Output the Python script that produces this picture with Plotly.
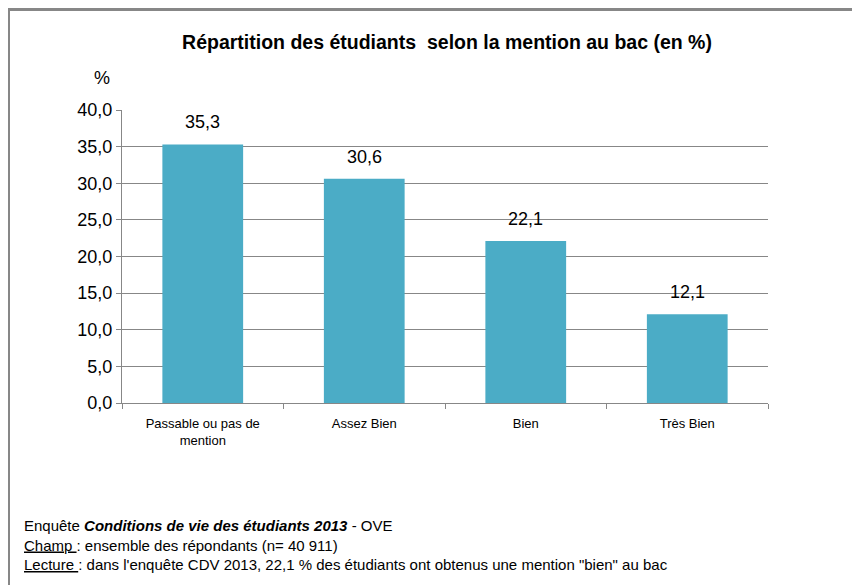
import plotly.graph_objects as go

# Données
categories = ["Passable ou pas de<br>mention", "Assez Bien", "Bien", "Très Bien"]
valeurs = [35.3, 30.6, 22.1, 12.1]
ticks_y = [0, 5, 10, 15, 20, 25, 30, 35, 40]

police = "Liberation Sans, Arial, sans-serif"
gris = "#878787"

# zone de tracé (coordonnées de la figure)
L, T, W, H = 114, 102, 646, 293

fig = go.Figure()

fig.add_trace(go.Bar(
    x=categories, y=valeurs,
    marker=dict(color="#4BACC6", line=dict(width=0)),
    width=0.5,
))

# étiquettes de valeurs au-dessus des barres
for cat, val in zip(categories, valeurs):
    fig.add_annotation(x=cat, y=val, text=f"{val:.1f}".replace(".", ","),
                       showarrow=False, yanchor="bottom", yshift=10,
                       font=dict(size=18, color="#000000", family=police))

fig.update_layout(
    width=860, height=585,
    margin=dict(l=L, r=860 - L - W, t=T, b=585 - T - H),
    paper_bgcolor="white", plot_bgcolor="white",
    separators=", ",
    showlegend=False,
    font=dict(family=police, color="#000000"),
    title=dict(text="<b>Répartition des étudiants  selon la mention au bac (en %)</b>",
               x=439 / 860, xanchor="center", y=1 - 34 / 585, yanchor="middle",
               font=dict(size=19.5, family=police)),
)

fig.update_yaxes(
    range=[0, 40], tickvals=ticks_y, tickformat=".1f",
    showgrid=True, gridcolor=gris, gridwidth=1,
    showline=True, linecolor=gris, linewidth=1,
    ticks="outside", ticklen=5, tickcolor=gris,
    tickfont=dict(size=18, family=police), zeroline=False,
)
fig.update_xaxes(
    showline=True, linecolor=gris, linewidth=1,
    ticks="outside", ticklen=5, tickcolor=gris, tickson="boundaries",
    ticklabelstandoff=8,
    tickfont=dict(size=13, family=police),
)

# Unité de l'axe
fig.add_annotation(text="%", xref="paper", yref="paper",
                   x=(84 - L) / W, y=1 + (T - 70) / H, yanchor="middle",
                   showarrow=False, font=dict(size=18, family=police))

# Note de bas de graphique
note = ("Enquête <b><i>Conditions de vie des étudiants 2013</i></b> - OVE<br>"
        "<span style='text-decoration:underline'>Champ </span>: ensemble des répondants (n= 40 911)<br>"
        "<span style='text-decoration:underline'>Lecture </span>: dans l'enquête CDV 2013, 22,1 % des étudiants ont obtenus une mention \"bien\" au bac")
fig.add_annotation(text=note, xref="paper", yref="paper", align="left",
                   x=(14 - L) / W, xanchor="left",
                   y=1 - (507 - T) / H, yanchor="top",
                   showarrow=False, font=dict(size=15, family=police))

# Cadre gris (haut et gauche)
fig.add_shape(type="line", xref="paper", yref="paper",
              x0=(0 - L) / W, x1=(860 - L) / W,
              y0=1 + (T - 1.5) / H, y1=1 + (T - 1.5) / H,
              line=dict(color=gris, width=3))
fig.add_shape(type="line", xref="paper", yref="paper",
              x0=(1 - L) / W, x1=(1 - L) / W,
              y0=1 + T / H, y1=1 - (585 - T) / H,
              line=dict(color=gris, width=2))

fig.write_html("out.html")
